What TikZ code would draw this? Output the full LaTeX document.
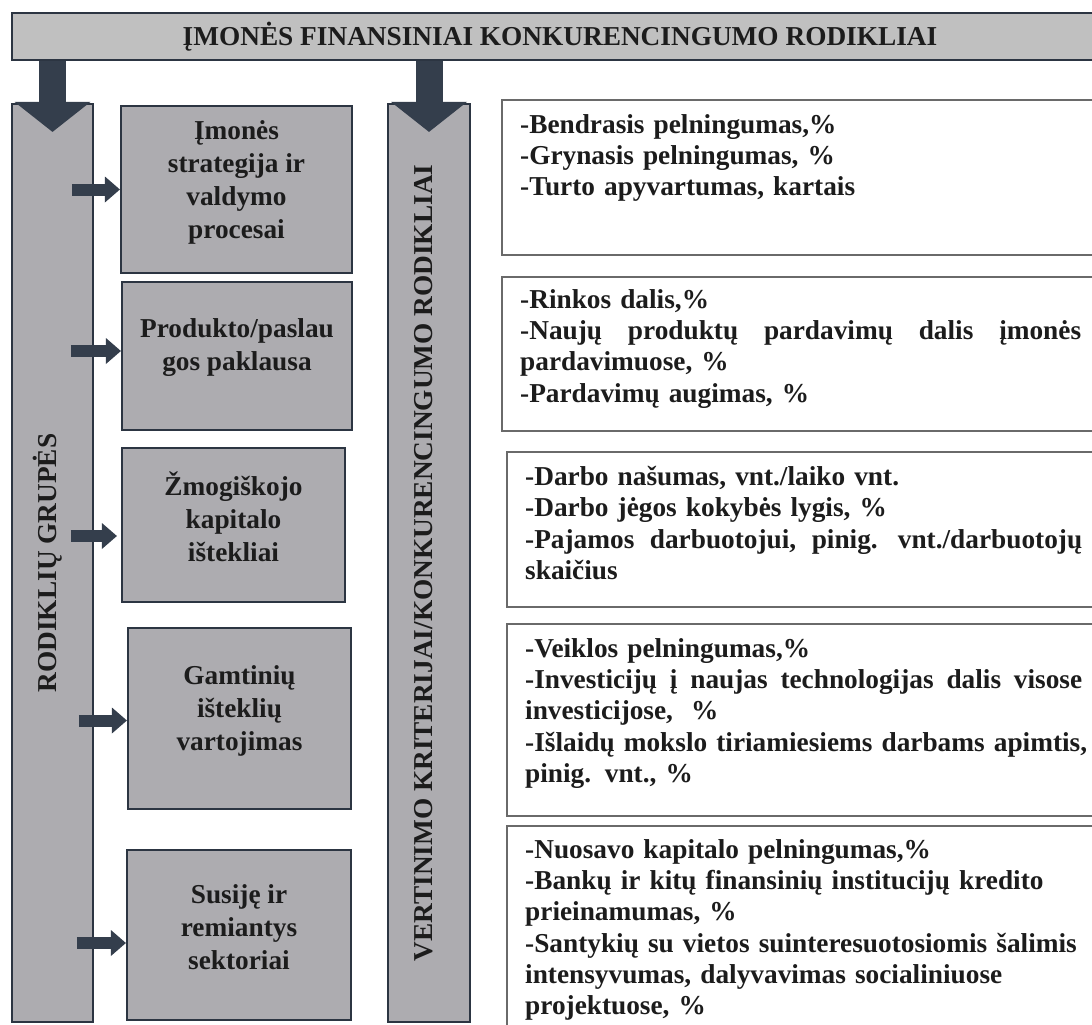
\documentclass[tikz,border=0pt]{standalone}
\usepackage{fontspec}
\setmainfont{Liberation Serif}
\usepackage{tikz}
\usetikzlibrary{calc}
\usetikzlibrary{arrows.meta}
\usetikzlibrary{positioning}
\definecolor{barfill}{HTML}{C0C0C0}
\definecolor{grpfill}{HTML}{ADACB0}
\definecolor{edgecol}{HTML}{2C3542}
\definecolor{arrowcol}{HTML}{343E4C}
\definecolor{critedge}{HTML}{6A6A6A}
\definecolor{inkcol}{HTML}{1C1C1C}
\tikzset{>=latex}
\tikzset{
  bar/.style = {rectangle, draw=edgecol, line width=2.2pt, fill=grpfill},
  group/.style = {rectangle, draw=edgecol, line width=2.2pt, fill=grpfill},
  grouptext/.style = {align=center, text=inkcol, inner sep=0pt, font=\bfseries\fontsize{27.3}{33}\selectfont},
  crit/.style = {rectangle, draw=critedge, line width=2pt, fill=white},
  crittext/.style = {anchor=north west, inner sep=0pt, text width=620pt, align=left, text=inkcol, font=\bfseries\fontsize{27.3}{31.3}\selectfont},
  bartext/.style = {rotate=90, text=inkcol, font=\bfseries\fontsize{27.3}{31}\selectfont},
  downarrow/.style = {draw=arrowcol, line width=27pt, -{Triangle[width=76pt,length=30pt,line width=0pt]}},
  sidearrow/.style = {draw=arrowcol, line width=12pt, -{Triangle[width=26pt,length=15pt,line width=0pt]}},
}
% a line spread out to the full width of a criteria box (words split by \hfill)
\newcommand{\jline}[2][561pt]{\leavevmode\hbox to #1{#2}}

\begin{document}
\begin{tikzpicture}[x=1pt, y=-1pt]
\useasboundingbox (0,0) rectangle (1092,1025);
\fill [white] (0,0) rectangle (1092,1025);
\clip (0,0) rectangle (1092,1025);

% top heading
\node [rectangle, draw=edgecol, line width=2pt, fill=barfill, minimum width=1096, minimum height=47, text=inkcol, font=\bfseries\fontsize{27.3}{31}\selectfont] (title) at (560, 36.5) {ĮMONĖS FINANSINIAI KONKURENCINGUMO RODIKLIAI};

% two tall bars
\node [bar, minimum width=81, minimum height=918] (grpbar) at (52.5, 563) {};
\node [bar, minimum width=82, minimum height=918] (critbar) at (429, 563) {};
\node [bartext] (grplabel) at ([xshift=-5pt]grpbar.center) {RODIKLIŲ GRUPĖS};
\node [bartext] (critlabel) at ([xshift=-5pt]critbar.center) {VERTINIMO KRITERIJAI/KONKURENCINGUMO RODIKLIAI};

% group boxes
\node [group, minimum width=231, minimum height=167] (g1) at (236.5, 189.5) {};
\node [group, minimum width=230, minimum height=148] (g2) at (237, 356) {};
\node [group, minimum width=223, minimum height=154] (g3) at (233.5, 525) {};
\node [group, minimum width=223, minimum height=181] (g4) at (239.5, 718.5) {};
\node [group, minimum width=224, minimum height=170] (g5) at (239, 935) {};
\node [grouptext] (t1) at ([yshift=7pt]g1.center) {Įmonės\\strategija ir\\valdymo\\procesai};
\node [grouptext] (t2) at ([yshift=8pt]g2.center) {Produkto/paslau\\gos paklausa};
\node [grouptext] (t3) at ([yshift=8pt]g3.center) {Žmogiškojo\\kapitalo\\ištekliai};
\node [grouptext] (t4) at ([yshift=8pt]g4.center) {Gamtinių\\išteklių\\vartojimas};
\node [grouptext] (t5) at ([yshift=8pt]g5.center) {Susiję ir\\remiantys\\sektoriai};

% criteria boxes
\node [crit, minimum width=608, minimum height=155] (kA) at (806, 177.5) {};
\node [crit, minimum width=608, minimum height=154] (kB) at (806, 354) {};
\node [crit, minimum width=603, minimum height=155] (kC) at (808.5, 529.5) {};
\node [crit, minimum width=603, minimum height=192] (kD) at (808.5, 720) {};
\node [crit, minimum width=603, minimum height=219] (kE) at (808.5, 935.5) {};

\node [crittext] (xA) at ([shift={(19pt,-15pt)}]kA.north west) {-Bendrasis pelningumas,\%\\-Grynasis pelningumas, \%\\-Turto apyvartumas, kartais};
\node [crittext] (xB) at ([shift={(19pt,-13pt)}]kB.north west) {-Rinkos dalis,\%\\\jline{-Naujų \hfill produktų \hfill pardavimų \hfill dalis \hfill įmonės}\\pardavimuose, \%\\-Pardavimų augimas, \%};
\node [crittext] (xC) at ([shift={(19pt,-15pt)}]kC.north west) {-Darbo našumas, vnt./laiko vnt.\\-Darbo jėgos kokybės lygis, \%\\\jline[557pt]{-Pajamos \hfill darbuotojui, \hfill pinig. \hfill vnt./darbuotojų}\\skaičius};
\node [crittext] (xD) at ([shift={(19pt,-15pt)}]kD.north west) {-Veiklos pelningumas,\%\\\jline[557pt]{-Investicijų \hfill į \hfill naujas \hfill technologijas \hfill dalis \hfill visose}\\investicijose,\ \ \%\\\jline[555pt]{-Išlaidų \hfill mokslo \hfill tiriamiesiems \hfill darbams \hfill apimtis,}\\pinig. vnt., \%};
\node [crittext] (xE) at ([shift={(19pt,-14pt)}]kE.north west) {-Nuosavo kapitalo pelningumas,\%\\-Bankų ir kitų finansinių institucijų kredito\\prieinamumas, \%\\-Santykių su vietos suinteresuotosiomis šalimis\\intensyvumas, dalyvavimas socialiniuose\\projektuose, \%};

% arrows
\draw [downarrow] (title.south -| grpbar.north) -- ([yshift=-29pt]grpbar.north);
\draw [downarrow] (title.south -| critbar.north) -- ([yshift=-29pt]critbar.north);
\draw [sidearrow] ([xshift=-48pt]g1.west) -- (g1.west);
\draw [sidearrow] ([xshift=-50pt,yshift=5pt]g2.west) -- ([yshift=5pt]g2.west);
\draw [sidearrow] ([xshift=-50pt,yshift=-11pt]g3.west) -- ([xshift=-4pt,yshift=-11pt]g3.west);
\draw [sidearrow] ([xshift=-48pt,yshift=-2pt]g4.west) -- ([yshift=-2pt]g4.west);
\draw [sidearrow] ([xshift=-49pt,yshift=-8pt]g5.west) -- ([yshift=-8pt]g5.west);
\end{tikzpicture}
\end{document}
